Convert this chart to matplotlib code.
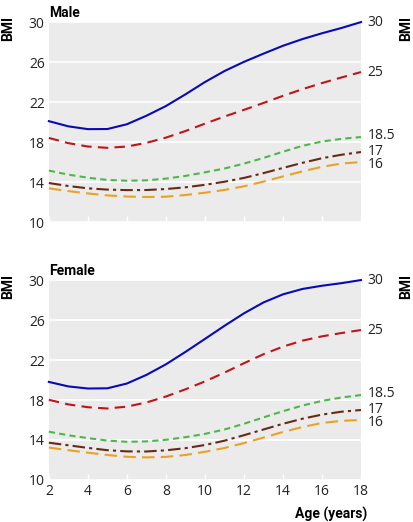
import matplotlib
matplotlib.use("Agg")
import matplotlib.pyplot as plt

# IOTF BMI cut-off curves
ages = [2, 3, 4, 5, 6, 7, 8, 9, 10, 11, 12, 13, 14, 15, 16, 17, 18]

male_30 = [20.09, 19.57, 19.29, 19.30, 19.78, 20.63, 21.60, 22.77, 24.00, 25.10, 26.02,
           26.84, 27.63, 28.30, 28.88, 29.41, 30.0]
male_25 = [18.41, 17.89, 17.55, 17.42, 17.55, 17.92, 18.44, 19.10, 19.84, 20.55, 21.22,
           21.91, 22.62, 23.29, 23.90, 24.46, 25.0]
male_185 = [15.14, 14.74, 14.43, 14.21, 14.13, 14.17, 14.34, 14.61, 14.97, 15.35, 15.84,
            16.41, 17.03, 17.62, 18.05, 18.32, 18.5]
male_17 = [13.90, 13.60, 13.37, 13.24, 13.19, 13.20, 13.30, 13.47, 13.72, 14.03, 14.41,
           14.89, 15.41, 15.92, 16.38, 16.73, 17.0]
male_16 = [13.37, 13.09, 12.86, 12.66, 12.55, 12.50, 12.53, 12.70, 12.93, 13.21, 13.57,
           14.04, 14.56, 15.07, 15.52, 15.85, 16.0]

female_30 = [19.81, 19.36, 19.15, 19.17, 19.65, 20.51, 21.57, 22.81, 24.11, 25.42, 26.67,
             27.76, 28.57, 29.11, 29.43, 29.69, 30.0]
female_25 = [18.02, 17.56, 17.28, 17.15, 17.34, 17.75, 18.35, 19.07, 19.86, 20.74, 21.68,
             22.58, 23.34, 23.94, 24.37, 24.70, 25.0]
female_185 = [14.83, 14.47, 14.19, 13.94, 13.82, 13.86, 14.02, 14.28, 14.61, 15.05, 15.62,
              16.26, 16.88, 17.45, 17.91, 18.25, 18.5]
female_17 = [13.73, 13.47, 13.21, 12.98, 12.86, 12.85, 12.97, 13.18, 13.50, 13.93, 14.48,
             15.05, 15.62, 16.13, 16.54, 16.83, 17.0]
female_16 = [13.24, 12.98, 12.73, 12.50, 12.32, 12.26, 12.31, 12.50, 12.82, 13.20, 13.69,
             14.24, 14.80, 15.30, 15.70, 15.92, 16.0]

cutoff_labels = ["30", "25", "18.5", "17", "16"]
# small vertical nudges so the end labels do not collide
label_nudge = [0.0, 0.0, 0.2, 0.08, -0.2]
colors = ["#0a0ab4", "#c01418", "#4cb848", "#6a2a12", "#e8a224"]
styles = ["-", (0, (5, 3)), (0, (3, 2)), (0, (6, 2, 1.5, 2)), (0, (6, 3))]

panels = [
    ("Male", [male_30, male_25, male_185, male_17, male_16]),
    ("Female", [female_30, female_25, female_185, female_17, female_16]),
]

tick_font = "Open Sans"
bold_font = "Roboto"

fig = plt.figure(figsize=(4.14, 5.22), dpi=100)
rects = [[0.118, 0.5747, 0.754, 0.383], [0.118, 0.0805, 0.754, 0.383]]

for i, (title, series) in enumerate(panels):
    ax = fig.add_axes(rects[i])
    ax.set_facecolor("#ebebeb")
    for s in ax.spines.values():
        s.set_visible(False)
    ax.set_xlim(2, 18)
    ax.set_ylim(10, 30)
    ax.set_yticks([10, 14, 18, 22, 26, 30])
    ax.set_xticks(range(2, 19, 2))
    ax.grid(axis="y", color="white", linewidth=1.2)
    ax.set_axisbelow(True)
    ax.tick_params(axis="y", length=0, labelsize=10, pad=3, labelcolor="#222222")
    ax.tick_params(axis="x", direction="in", length=4, color="white", width=1,
                   labelsize=10, pad=3, labelcolor="#222222")
    for t in ax.get_xticklabels() + ax.get_yticklabels():
        t.set_fontfamily(tick_font)
    if i == 0:
        ax.tick_params(axis="x", labelbottom=False)

    for vals, lab, c, ls, dy in zip(series, cutoff_labels, colors, styles, label_nudge):
        ax.plot(ages, vals, color=c, linestyle=ls, linewidth=1.5, clip_on=False)
        ax.text(18.35, vals[-1] + dy, lab, fontsize=10, family=tick_font,
                color="#222222", va="center", ha="left")

    ax.text(0.0, 1.012, title, transform=ax.transAxes, fontsize=10, family=bold_font,
            fontweight="bold", ha="left", va="bottom")
    ax.text(-0.13, 1.03, "BMI", transform=ax.transAxes, rotation=90, fontsize=10,
            family=bold_font, fontweight="bold", ha="center", va="top")
    ax.text(1.146, 1.03, "BMI", transform=ax.transAxes, rotation=90, fontsize=10,
            family=bold_font, fontweight="bold", ha="center", va="top")

fig.text(0.886, 0.014, "Age (years)", fontsize=10, family=bold_font,
         fontweight="bold", ha="right", va="center")

fig.savefig("out.png", dpi=100)
